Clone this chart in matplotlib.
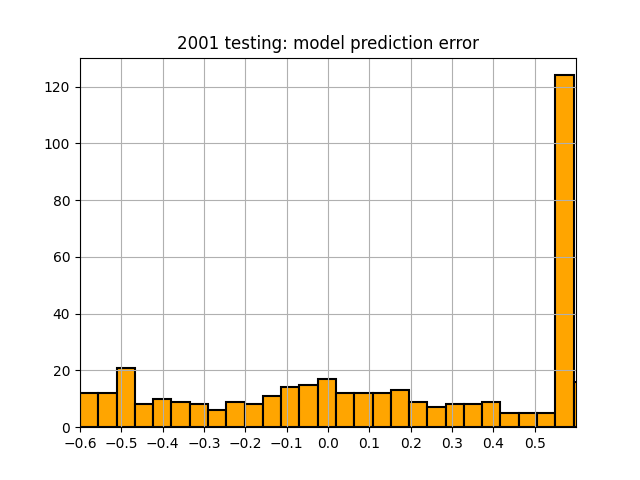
import numpy as np
from matplotlib import pyplot as plt

# histogram counts per bin
counts = [12, 12, 21, 8, 10, 9, 8, 6, 9, 8, 11, 14, 15, 17,
          12, 12, 12, 13, 9, 7, 8, 8, 9, 5, 5, 5, 124, 16]
bin_start = -0.6
bin_width = 1.15 / 26

edges = bin_start + bin_width * np.arange(len(counts) + 1)
centers = (edges[:-1] + edges[1:]) / 2

fig, ax = plt.subplots(figsize=(6.4, 4.8), dpi=100)
ax.hist(centers, bins=edges, weights=counts, color='orange',
        edgecolor='black', linewidth=1.5)
ax.set_title("2001 testing: model prediction error")
ax.set_xlim(-0.6, 0.6)
ax.set_xticks(np.round(np.arange(-0.6, 0.55, 0.1), 1))
ax.grid(True)

plt.savefig("out.png")
